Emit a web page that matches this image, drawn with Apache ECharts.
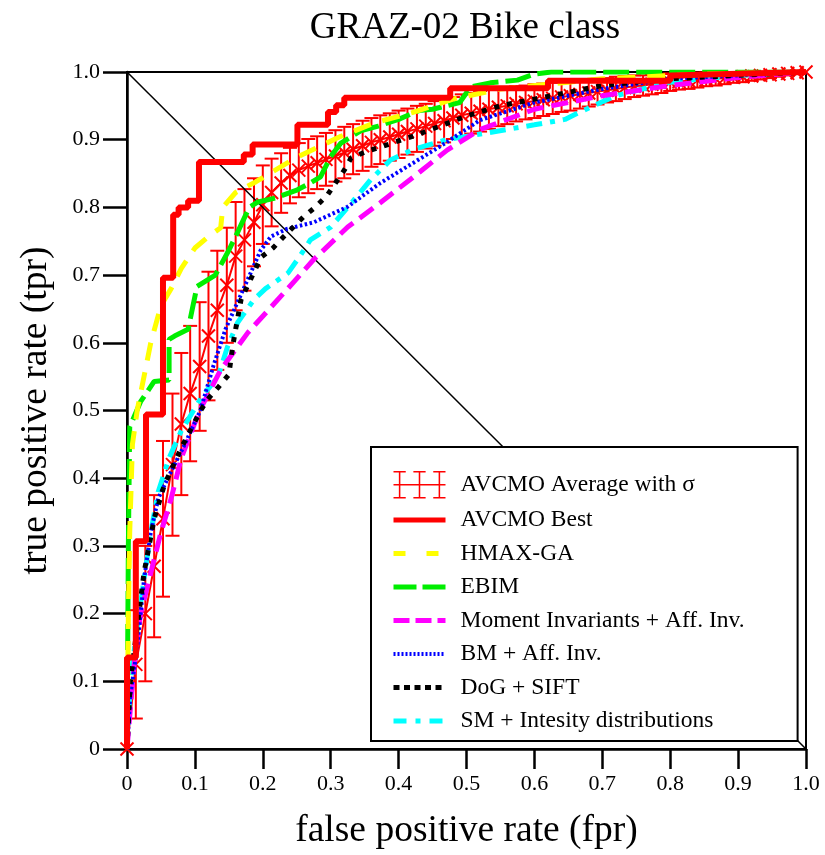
<!DOCTYPE html>
<html><head><meta charset="utf-8">
<script src="https://cdn.jsdelivr.net/npm/echarts@6/dist/echarts.min.js"></script>
<style>html,body{margin:0;padding:0;background:#fff}#c{width:825px;height:855px}</style>
</head><body><div id="c"></div>
<script>
// ---------------- data ----------------
const tickLabels = ['0','0.1','0.2','0.3','0.4','0.5','0.6','0.7','0.8','0.9','1.0'];

// AVCMO Average with sigma
const avgFpr = [0,.013,.027,.04,.053,.067,.08,.093,.107,.12,.133,.147,.16,.173,.187,.2,.213,.227,.24,.253,.267,.28,.293,.307,.32,.333,.347,.36,.373,.387,.4,.413,.427,.44,.453,.467,.48,.493,.507,.52,.533,.547,.56,.573,.587,.6,.613,.627,.64,.653,.667,.68,.693,.707,.72,.733,.747,.76,.773,.787,.8,.813,.827,.84,.853,.867,.88,.893,.907,.92,.933,.947,.96,.973,.987,1.0];
const avgTpr = [0,.125,.2,.27,.34,.42,.48,.525,.565,.61,.648,.685,.728,.752,.778,.804,.822,.836,.847,.855,.861,.866,.871,.876,.881,.886,.891,.896,.9,.904,.908,.912,.916,.92,.924,.928,.932,.936,.939,.942,.945,.948,.95,.953,.955,.957,.959,.961,.963,.965,.967,.969,.971,.973,.975,.977,.979,.98,.982,.983,.985,.986,.987,.988,.989,.99,.991,.992,.993,.994,.995,.996,.997,.998,.999,1.0];
const avgSigma = [0,.08,.1,.105,.115,.105,.105,.1,.095,.095,.088,.085,.08,.075,.065,.058,.05,.044,.041,.04,.04,.039,.039,.038,.038,.037,.037,.036,.036,.035,.035,.034,.034,.033,.033,.032,.031,.031,.03,.03,.029,.028,.027,.026,.025,.025,.024,.023,.022,.022,.021,.02,.019,.018,.018,.017,.016,.015,.015,.014,.013,.012,.012,.011,.01,.01,.009,.008,.008,.007,.006,.005,.004,.003,.002,0];

// AVCMO Best (step curve)
const bestFpr = [0,0,.013,.013,.028,.028,.053,.053,.068,.068,.076,.076,.09,.09,.106,.106,.172,.172,.185,.185,.251,.251,.296,.296,.308,.308,.32,.32,.476,.476,.62,.62,.8,.8,1.0];
const bestTpr = [0,.135,.135,.307,.307,.494,.494,.696,.696,.789,.789,.8,.8,.81,.81,.867,.867,.878,.878,.893,.893,.922,.922,.941,.941,.951,.951,.962,.962,.976,.976,.987,.987,.995,1.0];

// HMAX-GA
const hmaxFpr = [0,.002,.004,.008,.015,.025,.035,.05,.065,.08,.1,.12,.138,.141,.16,.19,.248,.315,.365,.42,.48,.55,.7,.85,1.0];
const hmaxTpr = [0,.2,.32,.45,.5,.55,.6,.655,.68,.71,.74,.757,.77,.8,.822,.838,.873,.905,.925,.94,.96,.975,.99,.997,1.0];

// EBIM
const ebimFpr = [0,.002,.004,.02,.04,.062,.062,.07,.09,.103,.13,.148,.16,.18,.193,.219,.251,.27,.285,.3,.315,.344,.37,.4,.43,.45,.49,.506,.535,.575,.6,.625,1.0];
const ebimTpr = [0,.3,.476,.513,.543,.545,.605,.61,.62,.683,.7,.733,.757,.8,.808,.814,.826,.836,.845,.875,.895,.913,.92,.93,.943,.945,.955,.978,.984,.988,.997,1.0,1.0];

// Moment Invariants + Aff. Inv.
const momFpr = [0,.01,.02,.035,.05,.065,.08,.107,.138,.178,.235,.275,.325,.373,.422,.472,.52,.6,.7,.8,.9,1.0];
const momTpr = [0,.12,.2,.26,.32,.37,.43,.5,.56,.615,.678,.723,.771,.807,.845,.885,.915,.945,.965,.98,.992,1.0];

// BM + Aff. Inv.
const bmFpr = [0,.005,.015,.025,.035,.046,.06,.085,.108,.127,.145,.165,.182,.197,.212,.235,.275,.325,.373,.422,.472,.52,.6,.7,.8,.9,1.0];
const bmTpr = [0,.08,.15,.25,.32,.37,.4,.45,.5,.565,.62,.665,.703,.737,.757,.768,.778,.801,.836,.866,.897,.929,.955,.975,.99,.995,1.0];

// DoG + SIFT
const dogFpr = [0,.005,.015,.025,.04,.055,.08,.109,.121,.135,.15,.156,.16,.168,.178,.197,.215,.231,.26,.278,.295,.307,.32,.33,.351,.373,.396,.418,.437,.5,.55,.6,.7,.8,1.0];
const dogTpr = [0,.1,.18,.26,.34,.39,.445,.501,.519,.535,.553,.597,.62,.664,.685,.726,.74,.757,.786,.801,.818,.836,.855,.873,.882,.889,.897,.904,.911,.935,.95,.96,.98,.99,1.0];

// SM + Intesity distributions
const smFpr = [0,.005,.015,.025,.035,.046,.062,.08,.11,.134,.148,.163,.187,.204,.237,.256,.27,.3,.326,.359,.388,.42,.47,.53,.6,.645,.68,.72,.8,.9,1.0];
const smTpr = [0,.1,.18,.25,.32,.38,.43,.47,.52,.55,.594,.63,.664,.68,.703,.73,.752,.771,.801,.841,.87,.885,.9,.91,.922,.93,.947,.965,.985,.995,1.0];

// chance diagonal
const diagFpr = [0, 1];
const diagTpr = [1, 0];

// ---------------- chart ----------------
const FONT = '"Liberation Serif","Times New Roman",serif';
function zip(a, b) { return a.map((v, i) => [v, b[i]]); }
const avgData = avgFpr.map((x, i) => [x, avgTpr[i], avgSigma[i]]);

const chart = echarts.init(document.getElementById('c'));

function renderErr(params, api) {
  const i = params.dataIndex;
  const x = api.value(0), m = api.value(1), s = api.value(2);
  const c = api.coord([x, m]);
  const st = { stroke: '#ff0000', lineWidth: 2, fill: null };
  const ch = [];
  if (s > 0) {
    const t = api.coord([x, Math.min(m + s, 1)]);
    const b = api.coord([x, Math.max(m - s, 0)]);
    ch.push({ type: 'line', shape: { x1: c[0], y1: t[1], x2: c[0], y2: b[1] }, style: st });
    ch.push({ type: 'line', shape: { x1: c[0] - 7, y1: t[1], x2: c[0] + 7, y2: t[1] }, style: st });
    ch.push({ type: 'line', shape: { x1: c[0] - 7, y1: b[1], x2: c[0] + 7, y2: b[1] }, style: st });
  }
  ch.push({ type: 'line', shape: { x1: c[0] - 6.5, y1: c[1] - 6.5, x2: c[0] + 6.5, y2: c[1] + 6.5 }, style: st });
  ch.push({ type: 'line', shape: { x1: c[0] - 6.5, y1: c[1] + 6.5, x2: c[0] + 6.5, y2: c[1] - 6.5 }, style: st });
  if (i > 0) {
    const p = api.coord([avgData[i - 1][0], avgData[i - 1][1]]);
    ch.push({ type: 'line', shape: { x1: p[0], y1: p[1], x2: c[0], y2: c[1] }, style: st });
  }
  return { type: 'group', children: ch };
}

// legend icon: three error bars joined by a line
const errIcon = 'path://M0,0H16V2H0ZM0,34H16V36H0ZM7,0H9V36H7Z' +
  'M26,0H42V2H26ZM26,34H42V36H26ZM33,0H35V36H33Z' +
  'M52,0H68V2H52ZM52,34H68V36H52ZM59,0H61V36H59Z' +
  'M0,17H68V19H0Z';

function lineSeries(name, data, color, width, type) {
  return {
    name, type: 'line', data, symbol: 'none', showSymbol: false,
    lineStyle: { color, width, type, cap: 'butt' },
    itemStyle: { color }, animation: false
  };
}

const labelFmt = v => tickLabels[Math.round(v * 10)];

const option = {
  animation: false,
  backgroundColor: '#fff',
  title: {
    text: 'GRAZ-02 Bike class', left: 460, top: 5, textAlign: 'center',
    textStyle: { fontFamily: FONT, fontSize: 37, fontWeight: 'normal', color: '#000' }
  },
  grid: { left: 127, right: 19, top: 72, bottom: 105, show: true, borderColor: '#000', borderWidth: 2, backgroundColor: 'transparent' },
  xAxis: {
    type: 'value', min: 0, max: 1, interval: 0.1,
    name: 'false positive rate (fpr)', nameLocation: 'middle', nameGap: 63,
    nameTextStyle: { fontFamily: FONT, fontSize: 37.5, color: '#000' },
    axisLine: { lineStyle: { color: '#000', width: 2.5 } },
    axisTick: { inside: false, length: 20, lineStyle: { color: '#000', width: 2.5 } },
    axisLabel: { margin: 24, fontFamily: FONT, fontSize: 22, color: '#000', formatter: labelFmt },
    splitLine: { show: false }
  },
  yAxis: {
    type: 'value', min: 0, max: 1, interval: 0.1,
    name: 'true positive rate (tpr)', nameLocation: 'middle', nameGap: 72, nameRotate: 90,
    nameTextStyle: { fontFamily: FONT, fontSize: 37.5, color: '#000' },
    axisLine: { lineStyle: { color: '#000', width: 2.5 } },
    axisTick: { inside: false, length: 24, lineStyle: { color: '#000', width: 2.5 } },
    axisLabel: { margin: 27, fontFamily: FONT, fontSize: 22, color: '#000', formatter: labelFmt },
    splitLine: { show: false }
  },
  legend: {
    orient: 'vertical', left: 371, top: 447,
    padding: [24, 53, 8, 20], itemGap: 9.5, itemWidth: 52, itemHeight: 30,
    backgroundColor: '#fff', borderColor: '#000', borderWidth: 2, borderRadius: 0,
    textStyle: { fontFamily: FONT, fontSize: 23.5, color: '#000', padding: [0, 0, 0, 10] },
    itemStyle: { opacity: 0 },
    selectedMode: false,
    data: [
      { name: 'AVCMO Average with σ', icon: errIcon, itemStyle: { opacity: 1, color: '#ff0000' } },
      { name: 'AVCMO Best', lineStyle: { width: 5, type: 'solid' } },
      { name: 'HMAX-GA', lineStyle: { width: 5, type: [12, 21] } },
      { name: 'EBIM', lineStyle: { width: 5, type: [23, 6] } },
      { name: 'Moment Invariants + Aff. Inv.', lineStyle: { width: 5, type: [16, 6] } },
      { name: 'BM + Aff. Inv.', lineStyle: { width: 4, type: [2, 2] } },
      { name: 'DoG + SIFT', lineStyle: { width: 5, type: [6, 4.5] } },
      { name: 'SM + Intesity distributions', lineStyle: { width: 5, type: [13, 9, 5, 9] } }
    ]
  },
  series: [
    lineSeries('diag', zip(diagFpr, diagTpr), '#000', 1.5, 'solid'),
    lineSeries('SM + Intesity distributions', zip(smFpr, smTpr), '#00ffff', 5, [16, 8, 5, 8]),
    lineSeries('Moment Invariants + Aff. Inv.', zip(momFpr, momTpr), '#ff00ff', 5, [17, 8]),
    lineSeries('BM + Aff. Inv.', zip(bmFpr, bmTpr), '#0000ff', 4, [2.5, 2.5]),
    lineSeries('DoG + SIFT', zip(dogFpr, dogTpr), '#000000', 5, [5, 8]),
    lineSeries('EBIM', zip(ebimFpr, ebimTpr), '#00ee00', 5, [26, 7]),
    lineSeries('HMAX-GA', zip(hmaxFpr, hmaxTpr), '#ffff00', 5, [18, 12]),
    {
      name: 'AVCMO Average with σ', type: 'custom', data: avgData,
      encode: { x: 0, y: 1 }, renderItem: renderErr, itemStyle: { color: '#ff0000' }
    },
    lineSeries('AVCMO Best', zip(bestFpr, bestTpr), '#ff0000', 6, 'solid')
  ]
};
chart.setOption(option);
</script>
</body></html>
